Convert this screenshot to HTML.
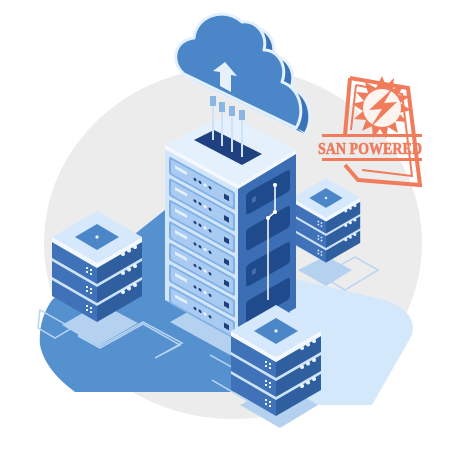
<!DOCTYPE html>
<html><head><meta charset="utf-8"><style>
html,body{margin:0;padding:0;background:#fff;width:457px;height:457px;overflow:hidden}
svg{display:block}
</style></head><body>
<svg width="457" height="457" viewBox="0 0 457 457" xmlns="http://www.w3.org/2000/svg">
<defs>
<g id="stack">
    <polygon points="-45,5 0,31 0,47 -45,21" fill="#3f72b8"/>
    <polygon points="0,31 45,5 45,21 0,47" fill="#2f5f9f"/>
    <polygon points="-45,21 0,47 45,21 45,24 0,50 -45,24" fill="#cfe3f8"/>
    <polygon points="-45,24 0,50 0,66 -45,40" fill="#3f72b8"/>
    <polygon points="0,50 45,24 45,40 0,66" fill="#2f5f9f"/>
    <polygon points="-45,40 0,66 45,40 45,43 0,69 -45,43" fill="#cfe3f8"/>
    <polygon points="-45,43 0,69 0,85 -45,59" fill="#3f72b8"/>
    <polygon points="0,69 45,43 45,59 0,85" fill="#2f5f9f"/>
    <polygon points="-45,0 0,26 45,0 45,5 0,31 -45,5" fill="#f3f8fe"/>
    <polygon points="-45,0 0,-26 45,0 0,26" fill="#d6e8fb"/>
    <polygon points="-22,0 0,-13 22,0 0,13" fill="#4a86c8"/>
    <circle cx="0" cy="0" r="1.6" fill="#e6f1fc"/>
    <g fill="#e9f3fd">
      <circle cx="26" cy="17" r="2"/><circle cx="32" cy="13.5" r="2"/><circle cx="38" cy="10" r="2"/>
      <circle cx="26" cy="36" r="2"/><circle cx="32" cy="32.5" r="2"/><circle cx="38" cy="29" r="2"/>
      <circle cx="26" cy="55" r="2"/><circle cx="32" cy="51.5" r="2"/><circle cx="38" cy="48" r="2"/>
      <rect x="-11" y="30" width="2" height="2"/><rect x="-7" y="32" width="2" height="2"/><rect x="-11" y="34" width="2" height="2"/><rect x="-7" y="36" width="2" height="2"/>
      <rect x="-11" y="49" width="2" height="2"/><rect x="-7" y="51" width="2" height="2"/><rect x="-11" y="53" width="2" height="2"/><rect x="-7" y="55" width="2" height="2"/>
      <rect x="-11" y="68" width="2" height="2"/><rect x="-7" y="70" width="2" height="2"/><rect x="-11" y="72" width="2" height="2"/><rect x="-7" y="74" width="2" height="2"/>
    </g>
</g>
<path id="cloud" d="M184,74 C170,62 174,40 194,38 C196,16 224,6 242,22 C256,20 268,34 264,50 C278,50 288,66 282,82 C300,88 306,112 296,128 Z"/>
</defs>

<ellipse cx="233" cy="243" rx="189" ry="176" fill="#ececec"/>
<path d="M290,278 L385,300 Q418,312 412,335 L372,405 L290,405 Z" fill="#d3e8fb"/>
<path d="M165,210 L290,200 L290,330 L250,392 L75,392 Q45,370 40,345 Q38,320 52,300 Z" fill="#5590cf"/>

<g fill="none" stroke="#b9d5f1" stroke-width="1.5">
  <path d="M40,310 L72,328 L55,338 L38,328 Z"/>
  <path d="M78,335 L98,347 L143,322 L182,343 L155,358 L180,345 L143,324 L100,348 L78,336"/>
  <path d="M210,355 L280,394 L312,376"/>
  <path d="M212,380 L280,420 L312,402 L240,362"/>
  <path d="M335,268 L355,257 L378,270 L345,290 L330,281"/>
</g>
<g fill="#b4d2f0">
  <polygon points="62,325 98,346 138,323 100,303"/>
  <polygon points="170,322 230,355 260,340 200,305"/>
  <polygon points="240,405 280,428 318,405 280,385"/>
  <polygon points="298,270 326,286 352,270 326,256"/>
</g>

<use href="#stack" transform="translate(326,198) scale(0.76)"/>

<!-- tower -->
<polygon points="165,145 238,185 238,340 165,300" fill="#d2e5fa"/>
<polygon points="238,185 296,152 296,308 238,340" fill="#3b6eb4"/>
<polygon points="165,145 228,114 296,150 238,185" fill="#e4f0fc"/>
<polygon points="165,145 238,185 296,150 296,154 238,189 165,149" fill="#f5f9ff"/>
<polygon points="194,140 214,130 262,154 242,165" fill="#1f417f"/>
<g transform="matrix(1,0.55,0,1,165,150)">
  <g id="row">
    <rect x="4" y="4" width="66" height="18" rx="2" fill="#7fb0e6"/>
    <rect x="6" y="6" width="62" height="14" rx="1.5" fill="#a9cbf1"/>
    <rect x="10" y="10" width="12" height="3" fill="#e4f0fc"/>
    <circle cx="30" cy="13" r="1.5" fill="#1e3f7a"/><circle cx="35" cy="13" r="1.5" fill="#1e3f7a"/><circle cx="40" cy="13" r="1.5" fill="#f1f7ff"/><circle cx="45" cy="13" r="1.5" fill="#1e3f7a"/>
    <rect x="59" y="11" width="5" height="5" fill="#1e3f7a"/>
  </g>
  <use href="#row" y="21.5"/><use href="#row" y="43"/><use href="#row" y="64.5"/>
  <use href="#row" y="86"/><use href="#row" y="107.5"/><use href="#row" y="129"/>
</g>
<g transform="matrix(1,-0.56,0,1,238,190)">
  <rect x="8" y="8" width="44" height="22" rx="3" fill="#1f4a8c"/>
  <rect x="8" y="44" width="44" height="22" rx="3" fill="#1f4a8c"/>
  <rect x="8" y="80" width="44" height="22" rx="3" fill="#1f4a8c"/>
  <rect x="8" y="116" width="44" height="22" rx="3" fill="#1f4a8c"/>
  <rect x="14" y="16" width="4" height="5" fill="#3a6fb5"/>
  <rect x="14" y="88" width="4" height="5" fill="#3a6fb5"/>
</g>
<path d="M275,185 L275,212 L268,218 L268,300" fill="none" stroke="#fff" stroke-width="1.5"/>
<circle cx="275" cy="185" r="2" fill="#fff"/><circle cx="275" cy="212" r="2" fill="#fff"/><circle cx="268" cy="218" r="2" fill="#fff"/>

<!-- cables -->
<g stroke="#cfe3f8" stroke-width="2">
  <line x1="213" y1="100" x2="213" y2="140"/><line x1="222" y1="106" x2="222" y2="146"/>
  <line x1="232" y1="110" x2="232" y2="152"/><line x1="242" y1="114" x2="242" y2="157"/>
</g>
<!-- cloud -->
<use href="#cloud" transform="translate(9,6)" fill="#3c72b8" stroke="#e3f0fd" stroke-width="3" stroke-linejoin="round"/>
<path d="M184,74 L193,80 L305,134 L296,128 Z" fill="#3c72b8"/>
<use href="#cloud" fill="#4a86c8" stroke="#e3f0fd" stroke-width="3" stroke-linejoin="round"/>
<polygon points="225,62 237,76 231,75 231,92 220,86 220,72 213,71" fill="#e6f1fc"/>
<g fill="#8ab6e6"><rect x="210" y="96" width="6" height="10"/><rect x="219" y="102" width="6" height="10"/><rect x="229" y="106" width="6" height="10"/><rect x="239" y="110" width="6" height="10"/></g>

<use href="#stack" transform="translate(97,237)"/>
<use href="#stack" transform="translate(276,331)"/>

<!-- stamp -->
<g fill="none" stroke="#f07c5c">
  <path d="M350,78 L345,135 M350,78 L408,88 L420,185 L358,180 L345,165" stroke-width="4"/>
  <path d="M356,85 L351,130 M356,85 L402,94 L412,176 L362,170" stroke-width="2"/>
</g>
<g fill="#f07c5c">
  <polygon points="382,76 386,86 394,78 393,89 404,85 398,95 410,96 400,103 411,110 399,113 407,122 395,121 398,133 388,127 386,139 380,129 373,138 372,126 362,131 366,120 354,119 363,111 352,104 364,101 356,92 368,93 365,82 376,88"/>
</g>
<circle cx="382" cy="108" r="19" fill="#fdf3ef"/>
<polygon points="393,88 369,110 382,109 370,128 397,102 384,103" fill="#f07c5c"/>
<rect x="322" y="134" width="100" height="3" fill="#f07c5c"/>
<text x="370" y="154" text-anchor="middle" font-family="Liberation Serif, serif" font-weight="bold" font-size="17" fill="#f07c5c" stroke="#f07c5c" stroke-width="0.6" textLength="104" lengthAdjust="spacingAndGlyphs">SAN POWERED</text>
<rect x="322" y="158" width="100" height="3" fill="#f07c5c"/>
</svg>
</body></html>
